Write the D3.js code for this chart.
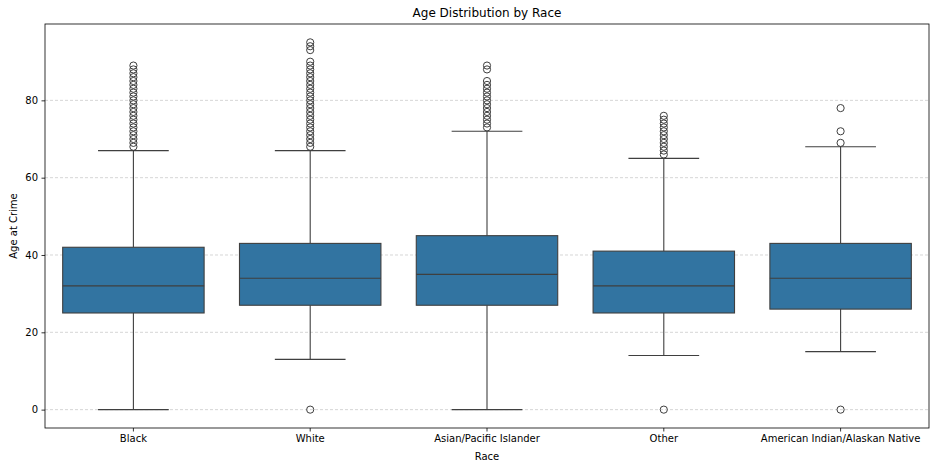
<!DOCTYPE html>
<html>
<head>
<meta charset="utf-8">
<script src="https://cdn.jsdelivr.net/npm/d3@7"></script>
<style>
  body { margin: 0; background: #fff; }
  svg { font-family: "DejaVu Sans", sans-serif; }
</style>
</head>
<body>
<div id="chart"></div>
<script>
// categories and box statistics
var races = ["Black", "White", "Asian/Pacific Islander", "Other", "American Indian/Alaskan Native"];
var whiskerLow  = [0, 13, 0, 14, 15];
var q1          = [25, 27, 27, 25, 26];
var medians     = [32, 34, 35, 32, 34];
var q3          = [42, 43, 45, 41, 43];
var whiskerHigh = [67, 67, 72, 65, 68];
var outliers = [
  [68,69,70,71,72,73,74,75,76,77,78,79,80,81,82,83,84,85,86,87,88,89],
  [0,68,69,70,71,72,73,74,75,76,77,78,79,80,81,82,83,84,85,86,87,88,89,90,93,94,95],
  [73,74,75,76,77,78,79,80,81,82,83,84,85,88,89],
  [0,66,67,68,69,70,71,72,73,74,75,76],
  [0,69,72,78]
];
var yTicks = [0, 20, 40, 60, 80];

var width = 930, height = 464;
var margin = {top: 24, right: 1, bottom: 36, left: 45};
var lineColor = "#3f3f3f";

var svg = d3.select("#chart").append("svg").attr("width", width).attr("height", height);

var x = d3.scaleBand().domain(races).range([margin.left, width - margin.right]).paddingInner(0).paddingOuter(0);
var y = d3.scaleLinear().domain([-4.75, 99.75]).range([height - margin.bottom, margin.top]);

// grid
svg.append("g").selectAll("line").data(yTicks).enter().append("line")
  .attr("x1", margin.left).attr("x2", width - margin.right)
  .attr("y1", function(d){ return y(d); }).attr("y2", function(d){ return y(d); })
  .attr("stroke", "#cccccc").attr("stroke-width", 0.8).attr("stroke-dasharray", "3,2");

var data = races.map(function(r, i){
  return {race: r, lo: whiskerLow[i], q1: q1[i], med: medians[i], q3: q3[i], hi: whiskerHigh[i], out: outliers[i]};
});

var boxW = x.bandwidth() * 0.8;
var capW = boxW / 2;

var g = svg.append("g").selectAll("g").data(data).enter().append("g")
  .attr("transform", function(d){ return "translate(" + (x(d.race) + x.bandwidth() / 2) + ",0)"; });

// whiskers
g.append("line").attr("x1", 0).attr("x2", 0)
  .attr("y1", function(d){ return y(d.lo); }).attr("y2", function(d){ return y(d.q1); })
  .attr("stroke", lineColor).attr("stroke-width", 1.1);
g.append("line").attr("x1", 0).attr("x2", 0)
  .attr("y1", function(d){ return y(d.q3); }).attr("y2", function(d){ return y(d.hi); })
  .attr("stroke", lineColor).attr("stroke-width", 1.1);
g.append("line").attr("x1", -capW / 2).attr("x2", capW / 2)
  .attr("y1", function(d){ return y(d.lo); }).attr("y2", function(d){ return y(d.lo); })
  .attr("stroke", lineColor).attr("stroke-width", 1.1);
g.append("line").attr("x1", -capW / 2).attr("x2", capW / 2)
  .attr("y1", function(d){ return y(d.hi); }).attr("y2", function(d){ return y(d.hi); })
  .attr("stroke", lineColor).attr("stroke-width", 1.1);

// boxes
g.append("rect").attr("x", -boxW / 2).attr("width", boxW)
  .attr("y", function(d){ return y(d.q3); })
  .attr("height", function(d){ return y(d.q1) - y(d.q3); })
  .attr("fill", "#3274a1").attr("stroke", lineColor).attr("stroke-width", 1.1);

// medians
g.append("line").attr("x1", -boxW / 2).attr("x2", boxW / 2)
  .attr("y1", function(d){ return y(d.med); }).attr("y2", function(d){ return y(d.med); })
  .attr("stroke", lineColor).attr("stroke-width", 1.1);

// outliers
g.selectAll("circle").data(function(d){ return d.out; }).enter().append("circle")
  .attr("cx", 0).attr("cy", function(v){ return y(v); }).attr("r", 3.6)
  .attr("fill", "none").attr("stroke", lineColor).attr("stroke-width", 1);

// axes
var xAxis = svg.append("g").attr("transform", "translate(0," + (height - margin.bottom) + ")")
  .call(d3.axisBottom(x).tickSize(3.5).tickPadding(3.5));
var yAxis = svg.append("g").attr("transform", "translate(" + margin.left + ",0)")
  .call(d3.axisLeft(y).tickValues(yTicks).tickSize(3.5).tickPadding(3.5));
[xAxis, yAxis].forEach(function(a){
  a.select(".domain").remove();
  a.selectAll("line").attr("stroke", "#000").attr("stroke-width", 0.8);
  a.selectAll("text").attr("font-size", 10).attr("fill", "#000").attr("font-family", "DejaVu Sans, sans-serif");
});

// frame
svg.append("rect").attr("x", margin.left).attr("y", margin.top)
  .attr("width", width - margin.left - margin.right).attr("height", height - margin.top - margin.bottom)
  .attr("fill", "none").attr("stroke", "#000").attr("stroke-width", 0.8);

// labels
svg.append("text").attr("x", (margin.left + width - margin.right) / 2).attr("y", 17)
  .attr("text-anchor", "middle").attr("font-size", 12).text("Age Distribution by Race");
svg.append("text").attr("x", (margin.left + width - margin.right) / 2).attr("y", 460)
  .attr("text-anchor", "middle").attr("font-size", 10).text("Race");
svg.append("text").attr("transform", "translate(17," + ((margin.top + height - margin.bottom) / 2) + ") rotate(-90)")
  .attr("text-anchor", "middle").attr("font-size", 10).text("Age at Crime");
</script>
</body>
</html>
